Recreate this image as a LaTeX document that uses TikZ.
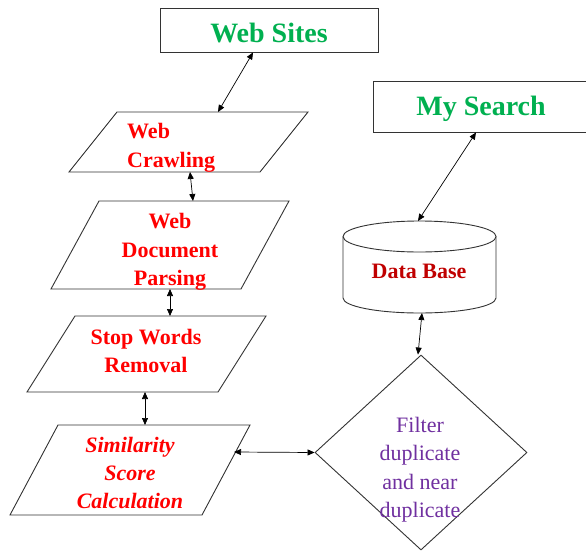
\documentclass[tikz,border=0pt]{standalone}
\usepackage{fontspec}
\setmainfont{Liberation Serif}
\usetikzlibrary{arrows.meta,shapes.geometric,calc}
\definecolor{wsgreen}{HTML}{00B050}
\definecolor{procred}{HTML}{FF0000}
\definecolor{dbred}{HTML}{C00000}
\definecolor{filtpurple}{HTML}{7030A0}
\begin{document}
\begin{tikzpicture}[x=1pt,y=-1pt,
  shapeline/.style={draw=black!80, line width=0.9pt},
  boxshape/.style={shapeline, rectangle, inner sep=0pt},
  frame/.style={rectangle, inner sep=0pt, outer sep=0pt},
  link/.style={draw=black, line width=0.7pt,
    {Triangle[length=7pt,width=6pt]}-{Triangle[length=7pt,width=6pt]}},
  titletext/.style={font=\fontsize{28}{34}\selectfont\bfseries, text=wsgreen, inner sep=0pt},
  proctext/.style={font=\fontsize{22}{28.5}\selectfont\bfseries, text=procred, inner sep=0pt, align=center},
]
\clip (0,0) rectangle (586,551);
\fill[white] (0,0) rectangle (586,551);

% top boxes
\node[boxshape, minimum width=218pt, minimum height=44pt] (ws) at (269,30) {};
\node[titletext, anchor=base] (wstext) at (269,43) {Web Sites};
\node[boxshape, minimum width=222pt, minimum height=51pt] (ms) at (484,106.5) {};
\node[titletext, anchor=base] (mstext) at (481,115) {My Search};

% process parallelograms (frames give the names, paths draw the slanted outline)
\node[frame, minimum width=239pt, minimum height=60pt] (crawl) at (188.5,142) {};
\node[frame, minimum width=238pt, minimum height=88pt] (parse) at (170,245) {};
\node[frame, minimum width=239pt, minimum height=76pt] (stop) at (146.5,354) {};
\node[frame, minimum width=240pt, minimum height=90pt] (sim) at (130,470) {};
\foreach \p in {crawl,parse,stop,sim}{
  \draw[shapeline, line join=miter] ($(\p.north west)+(48,0)$) -- (\p.north east)
    -- ($(\p.south east)+(-48,0)$) -- (\p.south west) -- cycle;
}

% database cylinder
\node[frame, minimum width=153pt, minimum height=92pt] (db) at (419.5,267) {};
\draw[shapeline] ($(db.north)+(0,15.5)$) ellipse [x radius=76.5pt, y radius=15.5pt];
\draw[shapeline] ($(db.north west)+(0,15.5)$) -- ($(db.south west)+(0,-15)$)
  arc[start angle=180, end angle=360, x radius=76.5pt, y radius=15pt]
  -- ($(db.north east)+(0,15.5)$);

% decision diamond
\node[shapeline, diamond, minimum width=212pt, minimum height=195pt, inner sep=0pt] (filt) at (421,452.5) {};

% texts
\node[proctext, align=left, anchor=west] (crawltext) at (127,148) {Web\\Crawling};
\node[proctext] (parsetext) at (170,252) {Web\\Document\\Parsing};
\node[proctext] (stoptext) at (146,351) {Stop Words\\Removal};
\node[proctext, font=\fontsize{22}{28}\selectfont\bfseries\itshape] (simtext) at (130,472.5) {Similarity\\Score\\Calculation};
\node[font=\fontsize{22}{28}\selectfont\bfseries, text=dbred, inner sep=0pt, anchor=base] (dbtext) at (419,278) {Data Base};
\node[font=\fontsize{22}{28.5}\selectfont, text=filtpurple, inner sep=0pt, align=center] (filttext) at (420,469.5) {Filter\\duplicate\\and near\\duplicate};

% connectors
\draw[link] ($(ws.south)+(-16,0)$) -- ($(crawl.north)+(29.5,0)$);
\draw[link] ($(crawl.south)+(1.5,0)$) -- ($(parse.north)+(23,0)$);
\draw[link] (parse.south) -- ($(stop.north)+(23.5,0)$);
\draw[link] ($(stop.south)+(-1.5,0)$) -- ($(sim.north)+(15,0)$);
\draw[link] ($(sim.center)+(104,-18)$) -- (filt.west);
\draw[link] ($(ms.south)+(-8,0)$) -- ($(db.north)+(-1.5,0)$);
\draw[link] ($(db.south)+(2.5,0)$) -- ($(filt.north)+(-3,0)$);
\end{tikzpicture}
\end{document}
